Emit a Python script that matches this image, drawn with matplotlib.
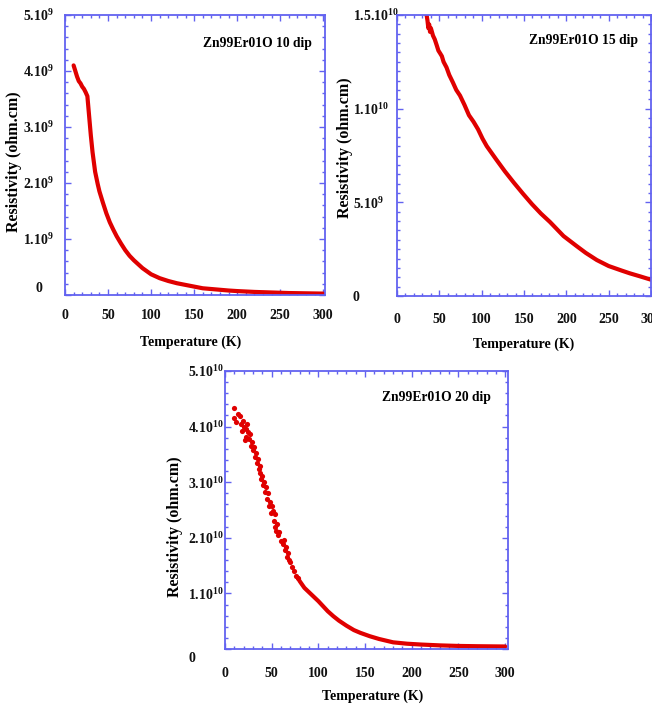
import matplotlib
matplotlib.use("Agg")
import matplotlib.pyplot as plt
from matplotlib.ticker import FixedLocator, FixedFormatter, MultipleLocator
from matplotlib.transforms import ScaledTranslation

plt.rcParams['font.family'] = ['Liberation Serif', 'DejaVu Serif']
plt.rcParams['font.weight'] = 'bold'
plt.rcParams['mathtext.fontset'] = 'custom'
plt.rcParams['mathtext.rm'] = 'Liberation Serif:bold'
plt.rcParams['mathtext.bf'] = 'Liberation Serif:bold'
plt.rcParams['mathtext.it'] = 'Liberation Serif:bold'

# ---------------- data ----------------
titles = ["Zn99Er01O 10 dip", "Zn99Er01O 15 dip", "Zn99Er01O 20 dip"]
x_label = "Temperature (K)"
y_label = "Resistivity (ohm.cm)"
x_ticks = [0, 50, 100, 150, 200, 250, 300]

# panel 1 (rho in 1e9 ohm.cm)
t1 = [10, 11, 12, 14, 16, 18, 20, 22, 24, 26, 28, 30, 32, 35, 38, 40, 44, 48,
      52, 56, 60, 65, 70, 75, 80, 90, 100, 110, 120, 130, 140, 150, 160, 175,
      190, 200, 220, 240, 260, 280, 300]
r1 = [4.10, 4.05, 4.00, 3.90, 3.82, 3.78, 3.72, 3.68, 3.62, 3.55, 3.20, 2.85,
      2.55, 2.20, 1.98, 1.85, 1.65, 1.46, 1.30, 1.17, 1.05, 0.92, 0.80, 0.70,
      0.62, 0.48, 0.37, 0.30, 0.25, 0.21, 0.18, 0.15, 0.12, 0.10, 0.08, 0.07,
      0.055, 0.045, 0.035, 0.03, 0.025]
y1_ticks = [0, 1, 2, 3, 4, 5]
y1_labels = ['0', r'$1.10^{9}$', r'$2.10^{9}$', r'$3.10^{9}$', r'$4.10^{9}$', r'$5.10^{9}$']

# panel 2 (rho in 1e9 ohm.cm)
t2 = [35, 36, 37, 38, 39, 40, 42.5, 44.6, 46.8, 48.9, 51, 53, 55, 58.5, 61.7,
      66, 70, 74.4, 79.7, 85, 90.4, 95.7, 101, 106, 117, 127.5, 138, 149,
      159.5, 170, 180.7, 196.7, 212.6, 223, 236, 250, 265.8, 275, 287, 300]
r2 = [15.0, 14.7, 14.3, 14.5, 14.1, 14.3, 13.9, 13.7, 13.4, 13.1, 12.95, 12.8,
      12.5, 12.2, 11.8, 11.4, 11.0, 10.7, 10.2, 9.65, 9.3, 8.9, 8.4, 8.0, 7.3,
      6.65, 6.05, 5.45, 4.9, 4.4, 3.95, 3.2, 2.65, 2.3, 1.92, 1.6, 1.35, 1.21,
      1.05, 0.87]
y2_ticks = [0, 5, 10, 15]
y2_labels = ['0', r'$5.10^{9}$', r'$1.10^{10}$', r'$1.5.10^{10}$']

# panel 3 (rho in 1e9 ohm.cm): scattered low-T points and smooth high-T part
t3s = [9.6, 10, 12, 14, 16, 17, 18, 19, 20, 21, 22, 23, 24, 25, 26, 27, 28,
       29, 30, 31, 32, 33, 34, 35, 36, 37, 38, 39, 40, 41, 42, 43, 44, 45, 46,
       47, 48, 49, 50, 51, 52, 53, 54, 55, 56, 57, 58, 60, 62, 63, 64, 65, 66,
       67, 68, 70, 72, 74, 76, 78]
r3s = [43.4, 41.5, 40.8, 42.2, 41.9, 40.5, 39.2, 41.0, 40.0, 37.6, 39.6, 38.2,
       40.5, 39.0, 37.8, 38.6, 36.5, 37.2, 35.8, 36.4, 34.5, 35.2, 33.5, 34.2,
       32.4, 31.6, 33.0, 30.5, 31.2, 29.5, 30.0, 28.3, 29.2, 27.0, 28.0, 25.8,
       26.5, 24.4, 25.8, 24.9, 23.0, 24.2, 22.0, 21.2, 22.4, 20.5, 21.0, 19.5,
       18.8, 19.6, 17.8, 18.4, 16.6, 17.2, 16.0, 15.6, 14.8, 14.0, 13.2, 12.8]
t3 = [78, 80, 85, 90, 95, 100, 105, 110, 116, 122, 130, 138, 145, 155, 165,
      180, 195, 210, 230, 250, 270, 300]
r3 = [12.8, 12.2, 11.0, 10.2, 9.4, 8.6, 7.7, 6.8, 5.9, 5.1, 4.2, 3.4, 2.9,
      2.3, 1.8, 1.2, 0.95, 0.8, 0.65, 0.55, 0.5, 0.45]
y3_ticks = [0, 10, 20, 30, 40, 50]
y3_labels = ['0', r'$1.10^{10}$', r'$2.10^{10}$', r'$3.10^{10}$', r'$4.10^{10}$', r'$5.10^{10}$']

# ---------------- style ----------------
W, H = 652, 707
fig = plt.figure(figsize=(W / 100, H / 100), dpi=100)
spine_c = '#6262f0'
red = '#e00000'


def px_axes(l, t, r, b):
    return fig.add_axes([l / W, 1 - b / H, (r - l) / W, (b - t) / H])


def style(ax, xmax, ylim, yticks, ylabels, yminor, ypad, yha, xpad, title, tx,
          ty, xl, yl, zero_dy):
    ax.set_xlim(0, xmax)
    ax.set_ylim(*ylim)
    for s in ax.spines.values():
        s.set_color(spine_c)
        s.set_linewidth(1.3)
    ax.xaxis.set_major_locator(FixedLocator(x_ticks))
    ax.xaxis.set_minor_locator(MultipleLocator(10))
    ax.yaxis.set_major_locator(FixedLocator(yticks))
    ax.yaxis.set_major_formatter(FixedFormatter(ylabels))
    ax.yaxis.set_minor_locator(MultipleLocator(yminor))
    ax.tick_params(which='both', direction='in', top=True, right=True,
                   colors=spine_c, labelcolor='#111111', labelsize=10)
    ax.tick_params(which='major', length=4, width=1)
    ax.tick_params(which='minor', length=2, width=1)
    ax.tick_params(axis='x', pad=xpad)
    ax.tick_params(axis='y', pad=ypad)
    ylabs = ax.get_yticklabels()
    for lab in ylabs:
        lab.set_horizontalalignment(yha)
        lab.set_fontweight('bold')
    ylabs[0].set_transform(ylabs[0].get_transform() +
                           ScaledTranslation(0, zero_dy / 100, fig.dpi_scale_trans))
    for lab in ax.get_xticklabels():
        lab.set_fontweight('bold')
    ax.text(tx, ty, title, transform=ax.transAxes,
            ha='right', va='center', fontsize=9.8, fontweight='bold')
    ax.set_xlabel(x_label, fontsize=10, fontweight='bold')
    ax.set_ylabel(y_label, fontsize=11.5, fontweight='bold')
    ax.xaxis.set_label_coords(*xl)
    ax.yaxis.set_label_coords(*yl)


ax1 = px_axes(65, 15, 325, 295)
ax2 = px_axes(397, 15, 651, 296)
ax3 = px_axes(225, 371, 508, 649)

ax1.plot(t1, r1, color=red, lw=3, solid_capstyle='round')
ax2.plot(t2, r2, color=red, lw=3, solid_capstyle='round')
ax3.scatter(t3s, r3s, s=14, color=red, linewidths=0)
ax3.plot(t3, r3, color=red, lw=3, solid_capstyle='round')

style(ax1, 302, (0, 5), y1_ticks, y1_labels, 0.2, 19, 'center', 10, titles[0],
      0.95, 0.90, (0.485, -0.143), (-0.165, 0.475), 8)
style(ax2, 300, (0, 15), y2_ticks, y2_labels, 0.5, 32, 'left', 12, titles[1],
      0.95, 0.91, (0.50, -0.149), (-0.175, 0.527), 0)
style(ax3, 303, (0, 50), y3_ticks, y3_labels, 2.0, 26.5, 'left', 13, titles[2],
      0.94, 0.905, (0.523, -0.147), (-0.150, 0.44), -8)

fig.savefig('out.png', dpi=100)
